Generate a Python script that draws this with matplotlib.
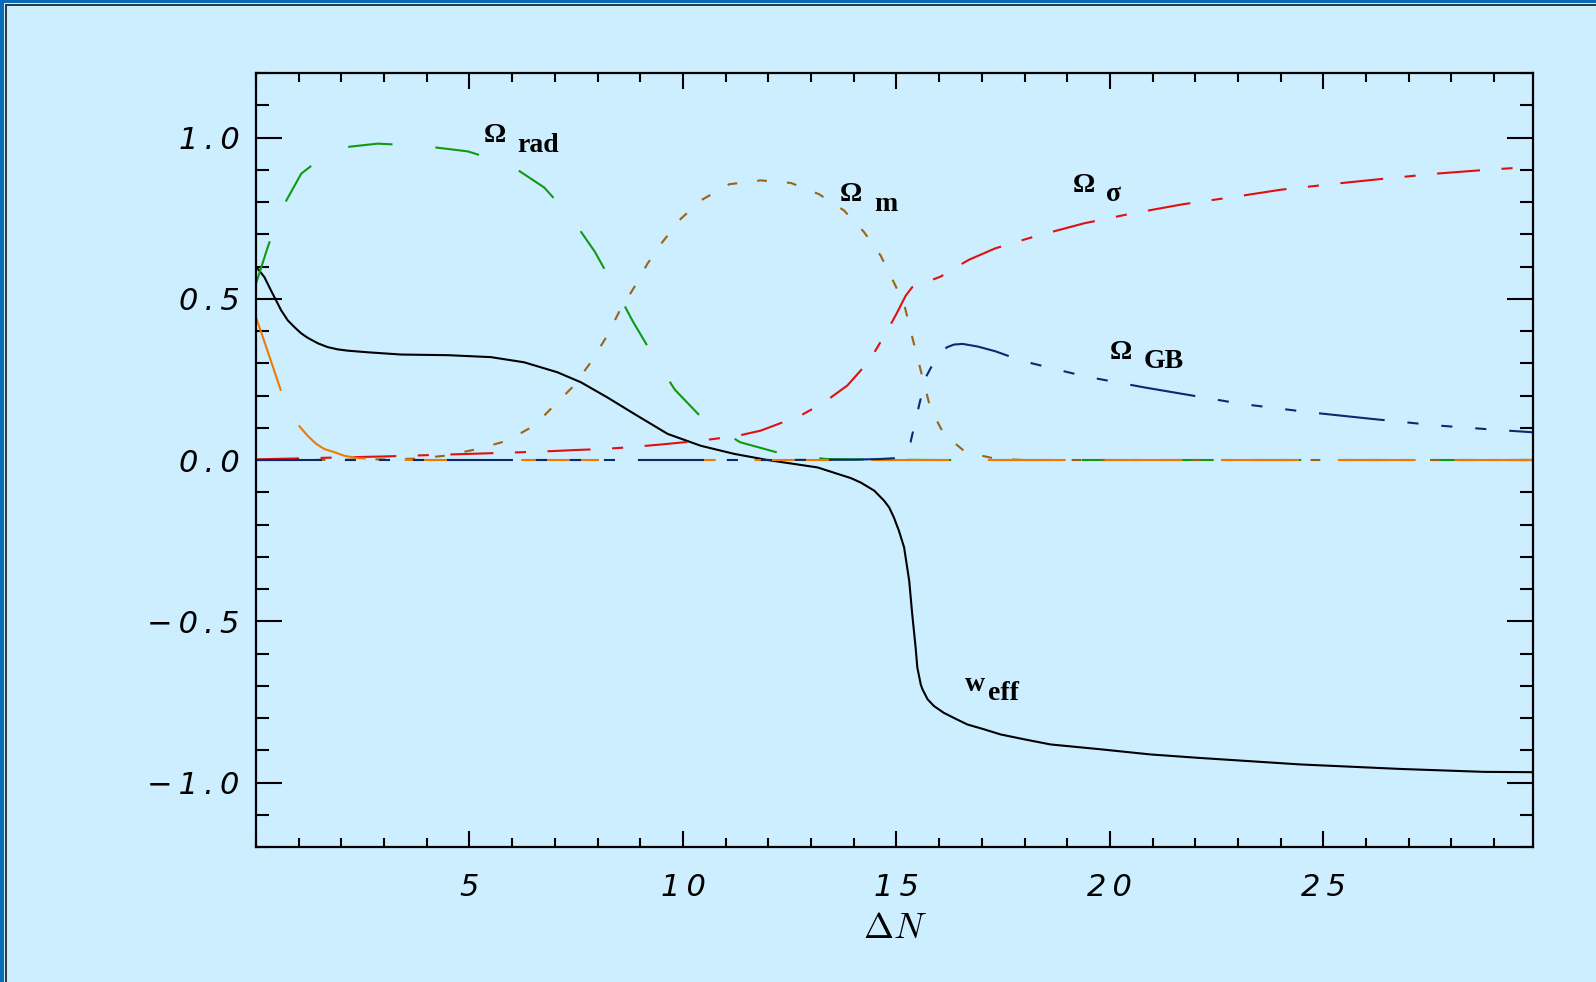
import matplotlib
matplotlib.use("Agg")
import matplotlib.pyplot as plt
from matplotlib.patches import Rectangle
from matplotlib.ticker import FixedLocator, MultipleLocator, FixedFormatter

plt.rcParams['lines.scale_dashes'] = False
plt.rcParams['mathtext.fontset'] = 'cm'

# ---------------- data ----------------
w_x = [0, 0.197, 0.35, 0.47, 0.59, 0.744, 0.9, 1.056, 1.21, 1.447, 1.68, 1.915, 2.15,
       2.617, 3.4, 4.5, 5.5, 6.28, 7.06, 7.61, 8.23, 8.86, 9.64, 10.42, 11.2, 11.98,
       13.15, 13.93, 14.166, 14.48, 14.71, 14.83, 14.94, 15.06, 15.18, 15.24, 15.30,
       15.37, 15.45, 15.49, 15.57, 15.61, 15.73, 15.88, 16.11, 16.35, 16.66, 17.05,
       17.44, 17.99, 18.61, 19.78, 20.95, 22.12, 24.46, 26.81, 28.76, 29.91]
w_y = [0.60, 0.567, 0.526, 0.495, 0.464, 0.433, 0.412, 0.393, 0.379, 0.362, 0.350,
       0.343, 0.339, 0.334, 0.327, 0.325, 0.319, 0.303, 0.272, 0.241, 0.194, 0.143,
       0.081, 0.044, 0.019, 0.0, -0.023, -0.056, -0.07, -0.095, -0.126, -0.147, -0.178,
       -0.22, -0.271, -0.323, -0.375, -0.478, -0.582, -0.644, -0.696, -0.711, -0.742,
       -0.763, -0.784, -0.80, -0.82, -0.835, -0.851, -0.866, -0.882, -0.897, -0.913,
       -0.924, -0.944, -0.958, -0.967, -0.968]

rad_x = [0, 0.28, 0.59, 1.06, 1.82, 2.85, 3.90, 4.96, 5.93, 6.75, 7.38, 7.94, 8.39,
         8.83, 9.30, 9.81, 10.47, 11.34, 12.33, 13.36, 14.5, 16, 18, 20, 22, 24, 26,
         28, 30]
rad_y = [0.547, 0.662, 0.776, 0.888, 0.966, 0.981, 0.974, 0.957, 0.917, 0.845, 0.752,
         0.645, 0.538, 0.429, 0.324, 0.218, 0.127, 0.055, 0.019, 0.003, 0.001, 0, 0,
         0, 0, 0, 0, 0, 0]

m_x = [0, 1, 2, 3, 3.7, 4.41, 5.19, 5.89, 6.52, 7.02, 7.45, 7.84, 8.2, 8.5, 8.86,
       9.17, 9.52, 9.95, 10.42, 11.08, 11.82, 12.53, 13.19, 13.77, 14.24, 14.63, 14.91,
       15.18, 15.33, 15.49, 15.65, 15.80, 16.11, 16.62, 17.36, 18, 20, 22, 24, 26, 28, 30]
m_y = [0, 0, 0.001, 0.002, 0.004, 0.013, 0.034, 0.06, 0.107, 0.174, 0.231, 0.303,
       0.38, 0.458, 0.536, 0.609, 0.676, 0.748, 0.805, 0.855, 0.867, 0.859, 0.824,
       0.774, 0.707, 0.634, 0.559, 0.484, 0.402, 0.319, 0.236, 0.158, 0.081, 0.024,
       0.003, 0, 0, 0, 0, 0, 0, 0]

sig_x = [0, 1, 2, 3, 4, 5, 6, 7, 7.5, 8.08, 8.7, 9.48, 10.42, 11.28, 11.82, 12.76,
         13.31, 13.85, 14.16, 14.44, 14.79, 15.02, 15.1, 15.22, 15.37, 15.49, 15.61,
         16.04, 16.27, 16.7, 17.31, 18.26, 19.40, 20.5, 21.71, 22.97, 24.0, 25.3,
         26.48, 27.65, 28.84, 29.9]
sig_y = [0.002, 0.005, 0.008, 0.011, 0.015, 0.019, 0.023, 0.028, 0.031, 0.034, 0.039,
         0.048, 0.06, 0.075, 0.091, 0.138, 0.179, 0.231, 0.277, 0.324, 0.402, 0.458,
         0.479, 0.51, 0.536, 0.544, 0.547, 0.569, 0.588, 0.621, 0.656, 0.694, 0.734,
         0.764, 0.793, 0.817, 0.838, 0.857, 0.873, 0.888, 0.90, 0.909]

gb_x = [0, 2, 4, 6, 8, 10, 12, 14, 14.6, 15.02, 15.33, 15.53, 15.69, 15.92, 16.04,
        16.19, 16.35, 16.55, 16.9, 17.32, 17.93, 18.68, 19.43, 20.81, 23.08, 24.67,
        26.17, 27.67, 29.1, 29.9]
gb_y = [0, 0, 0, 0, 0, 0, 0, 0.001, 0.003, 0.006, 0.055, 0.169, 0.257, 0.314, 0.334,
        0.35, 0.358, 0.36, 0.352, 0.337, 0.308, 0.283, 0.259, 0.225, 0.174, 0.148,
        0.127, 0.107, 0.093, 0.086]

or_x = [0, 0.24, 0.59, 1.02, 1.21, 1.41, 1.6, 1.84, 2.07, 2.38, 3.0, 4, 6, 8, 10, 12,
        14, 16, 18, 20, 22, 24, 26, 28, 30]
or_y = [0.443, 0.35, 0.213, 0.104, 0.075, 0.05, 0.034, 0.024, 0.013, 0.006, 0.001,
        0, 0, 0, 0, 0, 0, 0, 0, 0, 0, 0, 0, 0, 0]

x_tick_vals = [5, 10, 15, 20, 25]
x_tick_labels = ["5", "1\u20090", "1\u20095", "2\u20090", "2\u20095"]
y_tick_vals = [-1.0, -0.5, 0.0, 0.5, 1.0]
y_tick_labels = ["\u2212\u20091\u2009.\u20090", "\u2212\u20090\u2009.\u20095",
                 "0\u2009.\u20090", "0\u2009.\u20095", "1\u2009.\u20090"]

# ---------------- figure ----------------
BG = '#cceeff'
fig = plt.figure(figsize=(15.96, 9.82), dpi=100, facecolor=BG)
W, H = 1596, 982
ax = fig.add_axes([256 / W, 1 - 847 / H, (1533 - 256) / W, (847 - 73) / H])
ax.set_facecolor(BG)

lw = 1.5
ax.plot(w_x, w_y, color='black', lw=lw)
ax.plot(rad_x, rad_y, color='#119911', lw=lw, dashes=(32, 31))
ax.plot(m_x, m_y, color='#9a6414', lw=lw, dashes=(7, 14.5))
ax.plot(sig_x, sig_y, color='#e01010', lw=lw, dashes=(31, 15.5, 8, 15.5))
ax.plot(or_x, or_y, color='#f07a00', lw=lw, dashes=(56, 28))
ax.plot(gb_x, gb_y, color='#0a2a6e', lw=lw,
        dashes=(47.5, 16.5, 8, 16.5, 8, 16.5, 8, 16.5))

ax.set_xlim(0, 29.91)
ax.set_ylim(-1.2, 1.2)

ax.xaxis.set_major_locator(FixedLocator(x_tick_vals))
ax.xaxis.set_major_formatter(FixedFormatter(x_tick_labels))
ax.xaxis.set_minor_locator(MultipleLocator(1))
ax.yaxis.set_major_locator(FixedLocator(y_tick_vals))
ax.yaxis.set_major_formatter(FixedFormatter(y_tick_labels))
ax.yaxis.set_minor_locator(MultipleLocator(0.1))

ax.tick_params(axis='both', which='both', direction='in', top=True, right=True,
               width=1.5, color='black')
ax.tick_params(axis='x', which='major', length=11.3, pad=19)
ax.tick_params(axis='x', which='minor', length=6.5)
ax.tick_params(axis='y', which='major', length=18.7, pad=12)
ax.tick_params(axis='y', which='minor', length=9.4)
for lab in ax.get_xticklabels() + ax.get_yticklabels():
    lab.set_fontfamily('DejaVu Sans')
    lab.set_fontstyle('italic')
    lab.set_fontsize(22)

for s in ax.spines.values():
    s.set_linewidth(1.6)

ax.set_xlabel(r'$\Delta N$', fontsize=26, labelpad=6)

# annotations
lab_font = dict(family='Liberation Serif', weight='bold', size=20, color='black')
labels = [
    ("\u03a9", 5.33, 0.985, "rad", 6.11, 0.954),
    ("\u03a9", 13.68, 0.802, "m", 14.47, 0.772),
    ("\u03a9", 19.13, 0.831, "\u03c3", 19.92, 0.803),
    ("\u03a9", 20.0, 0.314, "GB", 20.79, 0.284),
    ("w", 16.60, -0.716, "eff", 17.14, -0.745),
]
for main, mx, my, sub, sx, sy in labels:
    ax.text(mx, my, main, ha='left', va='baseline', **lab_font)
    ax.text(sx, sy, sub, ha='left', va='baseline', **lab_font)

# window border (blue band + dark line) on left and top
fig.add_artist(Rectangle((0, 0), 4 / W, 1, transform=fig.transFigure,
                         facecolor='#0a6cb8', edgecolor='none'))
fig.add_artist(Rectangle((5 / W, 0), 1.5 / W, 1 - 4 / H, transform=fig.transFigure,
                         facecolor='#333a40', edgecolor='none'))
fig.add_artist(Rectangle((0, 1 - 3 / H), 1, 3 / H, transform=fig.transFigure,
                         facecolor='#0a6cb8', edgecolor='none'))
fig.add_artist(Rectangle((5 / W, 1 - 5.5 / H), 1, 1.5 / H, transform=fig.transFigure,
                         facecolor='#333a40', edgecolor='none'))

fig.savefig('out.png', dpi=100, facecolor=BG)
